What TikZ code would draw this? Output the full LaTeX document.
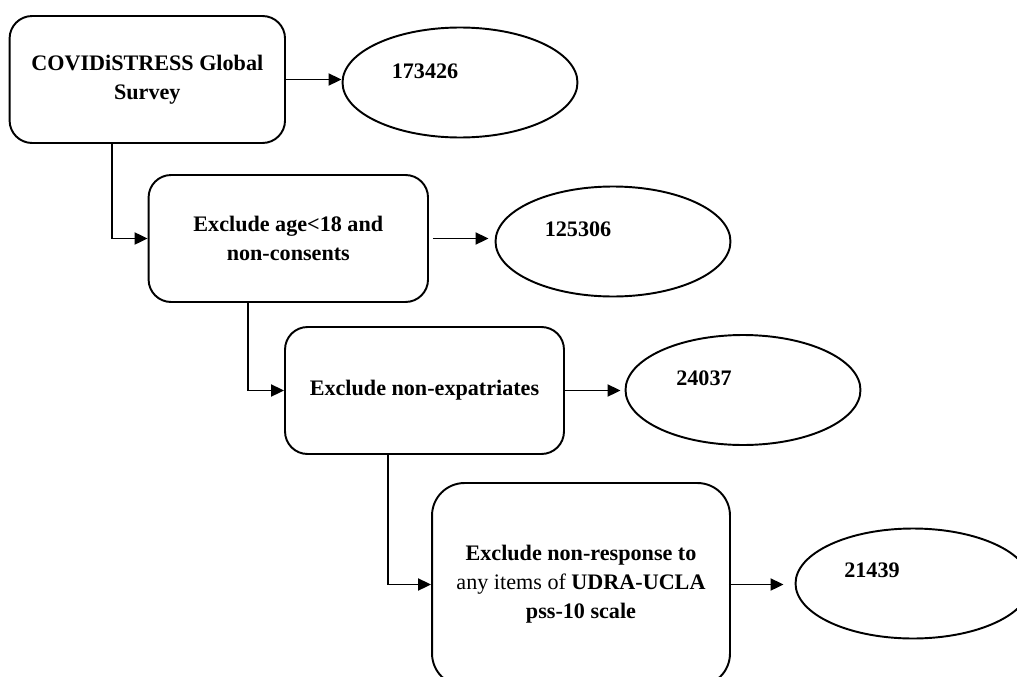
\documentclass[tikz,border=0pt]{standalone}
\usepackage{fontspec}
\setmainfont{Liberation Serif}
\usetikzlibrary{arrows.meta,shapes.geometric}
\begin{document}
\begin{tikzpicture}[
		x=0.02cm, y=-0.02cm,
		line width=1.1pt,
		every node/.style={align=center, font=\bfseries\fontsize{12.6}{16.6}\selectfont},
		stage/.style={rectangle, draw=black, rounded corners=0.45cm, minimum width=5.55cm, minimum height=2.54cm, inner sep=0pt},
		total/.style={ellipse, draw=black, minimum width=4.7cm, minimum height=2.2cm, inner sep=0pt},
		flow/.style={-{Triangle[length=0.26cm, width=0.24cm]}}
		]
		\useasboundingbox (0,0) rectangle (1017,676);
		\clip (0,0) rectangle (1017,676);
		\node[stage, minimum width=5.51cm] (survey) at (147.3,79.5) {COVIDiSTRESS Global\\Survey};
		\node[stage, minimum width=5.59cm] (agecut) at (288.3,238.5) {Exclude age<18 and\\non-consents};
		\node[stage, minimum width=5.58cm] (expat) at (424.5,390.5) {Exclude non-expatriates};
		\node[stage, minimum width=5.96cm, minimum height=4.06cm, rounded corners=0.65cm] (scale) at (581,584.5) {Exclude non-response to\\{\mdseries any items of} UDRA-UCLA\\pss-10 scale};
		\node[total] (n1) at (460,82.5) {};
		\node[total] (n2) at (613,241.5) {};
		\node[total] (n3) at (743,390) {};
		\node[total] (n4) at (913,583.5) {};
		\node (t1) at (425,71) {173426};
		\node (t2) at (578,229) {125306};
		\node (t3) at (704,378) {24037};
		\node (t4) at (872,570) {21439};
		\draw[flow] ([xshift=2.06cm]survey.south west) |- (agecut.west);
		\draw[flow] ([xshift=2.01cm]agecut.south west) |- (expat.west);
		\draw[flow] ([xshift=2.08cm]expat.south west) |- (scale.west);
		\draw[flow] (survey.east) -- (survey.east -| n1.west);
		\draw[flow, shorten <=0.08cm, shorten >=0.12cm] (agecut.east) -- (agecut.east -| n2.west);
		\draw[flow, shorten >=0.08cm] (expat.east) -- (expat.east -| n3.west);
		\draw[flow, shorten <=-0.04cm, shorten >=0.22cm] (scale.east) -- (scale.east -| n4.west);
	\end{tikzpicture}
\end{document}
